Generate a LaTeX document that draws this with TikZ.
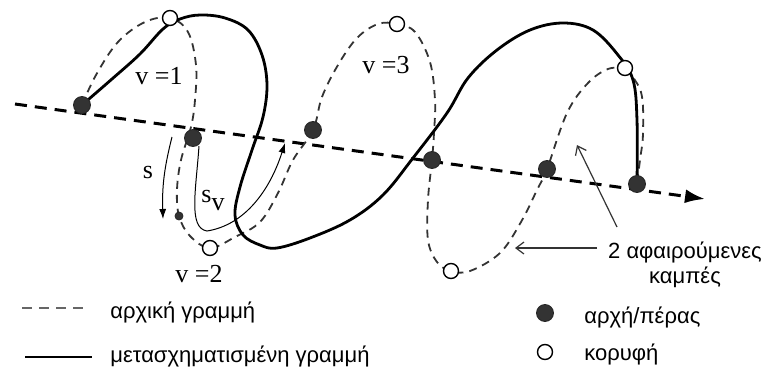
\documentclass[tikz,border=0pt]{standalone}
\usepackage{fontspec}
\setmainfont{Liberation Serif}
\newfontfamily\greekfont{Liberation Sans}
\usetikzlibrary{arrows.meta, positioning, backgrounds}

\begin{document}
\begin{tikzpicture}[x=0.5pt, y=-0.5pt, >=Latex,
    enddot/.style={draw=black!85, circle, fill=black!80, minimum size=8.5pt, inner sep=0pt},
    topdot/.style={draw=black, circle, fill=white, line width=0.7pt, minimum size=7.5pt, inner sep=0pt},
    origline/.style={draw=black!80, line width=0.9pt, dash pattern=on 4pt off 3pt},
    newline/.style={draw=black, line width=1.4pt},
    axisline/.style={draw=black, line width=1.5pt, dash pattern=on 6pt off 4pt},
    lenarrow/.style={draw=black, line width=0.5pt, -{Latex[length=5pt,width=3.5pt]}},
    notearrow/.style={draw=black!80, line width=0.6pt, -{Straight Barb[length=4pt,width=6pt]}},
    vlabel/.style={font=\fontsize{13}{15}\selectfont, inner sep=0pt},
    greek/.style={font=\greekfont\fontsize{11}{12.5}\selectfont, inner sep=0pt}]
    \useasboundingbox (0,0) rectangle (762,370);

    % Start/end points
    \node[enddot] (p0) at (82,105) {};
    \node[enddot] (p1) at (193,138) {};
    \node[enddot] (p2) at (313,130) {};
    \node[enddot] (p3) at (432,160) {};
    \node[enddot] (p4) at (547,169) {};
    \node[enddot] (p5) at (637,184) {};
    \node[enddot, minimum size=4pt] (q1) at (179,216) {};

    % Vertices
    \node[topdot] (v1) at (170,18) {};
    \node[topdot] (v2) at (210,248) {};
    \node[topdot] (v3) at (397,24) {};
    \node[topdot] (v4) at (451,271) {};
    \node[topdot] (v5) at (625,68) {};

    % Axis end points
    \coordinate (a0) at (15,104);
    \coordinate (a1) at (705,199);

    \begin{scope}[on background layer]
        \draw[axisline, -{Latex[length=10pt,width=7pt]}] (a0) -- (a1);
        % original line
        \draw[origline] plot[smooth, tension=0.6] coordinates {(p0.center) (96,75) (118,42) (145,22) (v1.center) (188,32) (196,65) (195,100) (191,127) (181,160) (177,190) (q1.center) (190,236) (v2.center) (235,237) (260,222) (278,193) (293,160) (p2.center) (322,97) (338,65) (357,38) (378,24) (v3.center) (415,32) (430,62) (435,100) (434,133) (p3.center) (428,200) (428,240) (437,262) (v4.center) (470,271) (500,253) (521,222) (537,190) (p4.center) (567,113) (588,83) (608,69) (v5.center)};
        \draw[origline] plot[smooth, tension=0.6] coordinates {(v5.center) (641,92) (643,133) (640,160) (p5.center)};
        % transformed line
        \draw[newline] plot[smooth, tension=0.6] coordinates {(p0.center) (112,79) (140,54) (163,29) (180,19) (200,15) (225,18) (248,30) (262,55) (267,85) (263,117) (252,150) (240,187) (235,215) (243,235) (260,245) (277,248) (310,238) (350,220) (383,195) (413,158) (447,113) (468,78) (497,50) (530,30) (563,23) (593,30) (618,55) (633,80) (637,120) (p5.center)};
    \end{scope}

    % Lengths s and s_v
    \coordinate (s0) at (172,137);
    \coordinate (s1) at (163,219);
    \draw[lenarrow] (s0) to[bend right=8] (s1);
    \coordinate (sv0) at (199,146);
    \coordinate (sv1) at (285,143);
    \draw[lenarrow] (sv0) .. controls (196,190) and (188,228) .. (207,231) .. controls (245,225) and (270,190) .. (sv1);

    \node[vlabel] (lv1) at (159,76) {v =1};
    \node[vlabel] (lv2) at (199,274) {v =2};
    \node[vlabel] (lv3) at (386,65) {v =3};
    \node[vlabel] (ls) at (148,172) {s};
    \node[vlabel] (lsv) at (213,200) {s\raisebox{-4pt}{v}};

    % Removed bends
    \node[greek, align=center] (rem) at (685,265) {2 αφαιρούμενες\\καμπές};
    \coordinate (r0) at (597,248);
    \coordinate (r1) at (515,248);
    \coordinate (r2) at (617,227);
    \coordinate (r3) at (577,145);
    \draw[notearrow] (r0) -- (r1);
    \draw[notearrow] (r2) -- (r3);

    % Legend
    \coordinate (l0) at (22,308);
    \coordinate (l1) at (88,308);
    \coordinate (l2) at (25,357);
    \coordinate (l3) at (92,357);
    \draw[origline, draw=black!60, dash pattern=on 5pt off 3.5pt] (l0) -- (l1);
    \draw[newline] (l2) -- (l3);
    \node[greek, anchor=base west] (t1) at (110,318) {αρχική γραμμή};
    \node[greek, anchor=base west] (t2) at (110,362) {μετασχηματισμένη γραμμή};
    \node[enddot] (ld1) at (545,313) {};
    \node[topdot] (ld2) at (545,352) {};
    \node[greek, anchor=base west] (t3) at (584,323) {αρχή/πέρας};
    \node[greek, anchor=base west] (t4) at (584,360) {κορυφή};
\end{tikzpicture}
\end{document}
